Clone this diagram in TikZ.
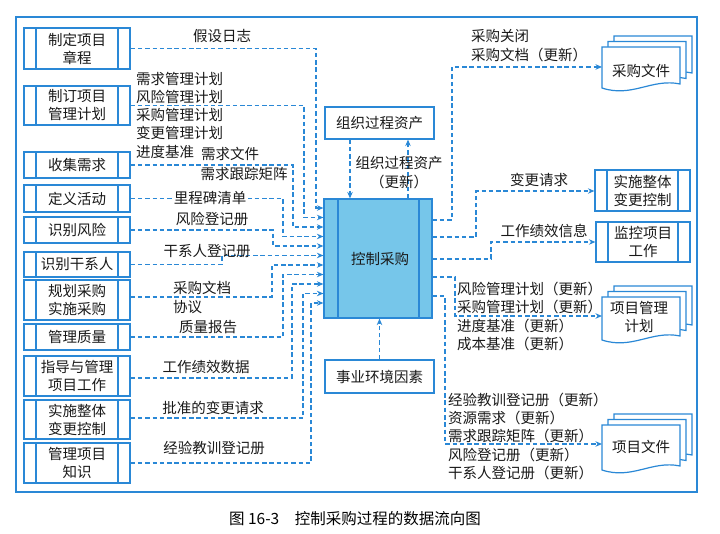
\documentclass[tikz,border=0pt]{standalone}
\usepackage{fontspec}
\setmainfont{Noto Sans CJK SC}
\usetikzlibrary{arrows.meta,calc}
\definecolor{lb}{RGB}{42,136,214}
\definecolor{cfill}{RGB}{118,198,234}
\definecolor{tx}{RGB}{25,25,25}
\tikzset{
 every node/.style={font=\fontsize{14.5}{18}\selectfont, text=tx},
 box/.style={draw=lb, line width=1.2pt, fill=white, inner sep=0pt, align=center},
 proc/.style={box, path picture={\draw[lb,line width=1.2pt]
   ([xshift=12pt]path picture bounding box.north west) -- ([xshift=12pt]path picture bounding box.south west)
   ([xshift=-12pt]path picture bounding box.north east) -- ([xshift=-12pt]path picture bounding box.south east);}},
 lproc/.style={proc, minimum width=106pt},
 flow/.style={draw=lb, line width=1.1pt, dash pattern=on 4.5pt off 2.8pt, -{Stealth[length=6.5pt,width=5.5pt]}},
 lab/.style={inner sep=0pt, anchor=west},
 clab/.style={inner sep=0pt},
 docnode/.style={minimum width=78pt, inner sep=0pt, anchor=north west}
}
\newcommand\mydoc[3]{%
 \draw[draw=lb,line width=1.2pt,fill=white] (#1,#2) -- ($(#1,#2)+(78,0)$) -- ($(#1,#2)+(78,#3-4)$)
   .. controls ($(#1,#2)+(50,#3-10)$) and ($(#1,#2)+(30,#3+10)$) .. ($(#1,#2)+(0,#3)$) -- cycle;}
\begin{document}
\begin{tikzpicture}[x=1pt,y=-1pt]
\useasboundingbox[fill=white] (0,0) rectangle (720,534);
\draw[lb, line width=1.3pt] (16,17) rectangle (697,492);

% left boxes
\node[lproc, minimum height=41pt] (b1) at (77,48.5) {制定项目\\章程};
\node[lproc, minimum height=39pt] (b2) at (77,105.5) {制订项目\\管理计划};
\node[lproc, minimum height=26pt] (b3) at (77,165) {收集需求};
\node[lproc, minimum height=27pt] (b4) at (77,198.5) {定义活动};
\node[lproc, minimum height=26pt] (b5) at (77,230) {识别风险};
\node[lproc, minimum height=25pt] (b6) at (77,264.5) {识别干系人};
\node[lproc, minimum height=40pt] (b7) at (77,300) {规划采购\\实施采购};
\node[lproc, minimum height=26pt] (b8) at (77,337) {管理质量};
\node[lproc, minimum height=40pt] (b9) at (77,376) {指导与管理\\项目工作};
\node[lproc, minimum height=39pt] (b10) at (77,419.5) {实施整体\\变更控制};
\node[lproc, minimum height=40pt] (b11) at (77,463) {管理项目\\知识};

% centre
\node[draw=lb, line width=1.2pt, fill=cfill, minimum width=108pt, minimum height=119pt, inner sep=0pt,
  path picture={\draw[lb,line width=1.2pt]
   ([xshift=14pt]path picture bounding box.north west) -- ([xshift=14pt]path picture bounding box.south west)
   ([xshift=-13pt]path picture bounding box.north east) -- ([xshift=-13pt]path picture bounding box.south east);}]
  (ctrl) at (378,258.5) {};
\node[clab] (ctrlt) at (380,259) {控制采购};
\node[box, minimum width=109pt, minimum height=32pt] (opa) at (379.5,123) {组织过程资产};
\node[box, minimum width=109pt, minimum height=33pt] (eef) at (379.5,376.5) {事业环境因素};

% right boxes
\node[proc, minimum width=95pt, minimum height=41pt] (ichg) at (642.5,190.5) {实施整体\\变更控制};
\node[proc, minimum width=94pt, minimum height=40pt] (mon) at (643,242) {监控项目\\工作};

% documents
\mydoc{614}{36}{41}\mydoc{608}{41.5}{41}\mydoc{602}{47}{41}
\node[docnode, minimum height=41pt] (docA) at (602,47) {};
\node[clab] (docAt) at (641,71) {采购文件};
\mydoc{614}{286}{43}\mydoc{608}{291.5}{43}\mydoc{602}{297}{43}
\node[docnode, minimum height=43pt] (docB) at (602,297) {};
\node[clab, align=center] (docBt) at (639,317) {项目管理\\计划};
\mydoc{614}{414}{45}\mydoc{608}{419.5}{45}\mydoc{602}{425}{45}
\node[docnode, minimum height=45pt] (docC) at (602,425) {};
\node[clab] (docCt) at (641,447) {项目文件};

% inputs
\draw[flow] (b1.east) -| (316,208) -- (ctrl.west |- 0,208);
\draw[flow] (b2.east) -| (304,217.5) -- (ctrl.west |- 0,217.5);
\draw[flow] (b3.east) -| (293,227) -- (ctrl.west |- 0,227);
\draw[flow] (b4.east) -| (283,236.5) -- (ctrl.west |- 0,236.5);
\draw[flow] (b5.east) -| (273,246) -- (ctrl.west |- 0,246);
\draw[flow] (b6.east) -| (222,255.5) -- (ctrl.west |- 0,255.5);
\draw[flow] (b7.east |- 0,297) -| (272,265) -- (ctrl.west |- 0,265);
\draw[flow] (b8.east) -| (283,274.5) -- (ctrl.west |- 0,274.5);
\draw[flow] (b9.east |- 0,378) -| (292,284) -- (ctrl.west |- 0,284);
\draw[flow] (b10.east |- 0,418) -| (303,293.5) -- (ctrl.west |- 0,293.5);
\draw[flow] (b11.east) -| (311,303) -- (ctrl.west |- 0,303);

% top / bottom
\draw[flow] (opa.south -| 350,0) -- (ctrl.north -| 350,0);
\draw[flow] (ctrl.north -| 408,0) -- (opa.south -| 408,0);
\draw[flow] (eef.north) -- (ctrl.south -| eef.north);

% outputs
\draw[flow] (ctrl.east |- 0,220) -| (452,67) -- (docA.west |- 0,67);
\draw[flow] (ctrl.east |- 0,237) -| (476,191) -- (ichg.west |- 0,191);
\draw[flow] (ctrl.east |- 0,259) -| (491,242) -- (mon.west);
\draw[flow] (ctrl.east |- 0,277) -| (455,316) -- (docB.west |- 0,316);
\draw[flow] (ctrl.east |- 0,296) -| (445,444) -- (docC.west |- 0,444);

% left labels
\node[clab] (l1) at (222,36) {假设日志};
\node[lab] (l2) at (136,79) {需求管理计划};
\node[lab] (l3) at (136,97) {风险管理计划};
\node[lab] (l4) at (136,115) {采购管理计划};
\node[lab] (l5) at (136,133) {变更管理计划};
\node[lab] (l6) at (136,152) {进度基准};
\node[clab] (l7) at (230,154) {需求文件};
\node[clab] (l8) at (244,174) {需求跟踪矩阵};
\node[clab, fill=white, inner xsep=2pt] (l9) at (210,198) {里程碑清单};
\node[clab] (l10) at (212,219) {风险登记册};
\node[clab] (l11) at (207,251) {干系人登记册};
\node[lab] (l12) at (173,288) {采购文档};
\node[lab] (l13) at (173,307) {协议};
\node[clab] (l14) at (208,327) {质量报告};
\node[clab] (l15) at (206,367) {工作绩效数据};
\node[clab] (l16) at (213,408) {批准的变更请求};
\node[clab] (l17) at (214,448) {经验教训登记册};

% right labels
\node[lab] (r1) at (471,36) {采购关闭};
\node[lab] (r2) at (471,55) {采购文档（更新）};
\node[clab] (r3) at (399,163) {组织过程资产};
\node[clab] (r4) at (399,182) {（更新）};
\node[clab] (r5) at (539,180) {变更请求};
\node[clab] (r6) at (544,231) {工作绩效信息};
\node[lab] (r7) at (457,289) {风险管理计划（更新）};
\node[lab] (r8) at (457,307) {采购管理计划（更新）};
\node[lab] (r9) at (457,326) {进度基准（更新）};
\node[lab] (r10) at (457,344) {成本基准（更新）};
\node[lab] (r11) at (448,400) {经验教训登记册（更新）};
\node[lab] (r12) at (448,418) {资源需求（更新）};
\node[lab] (r13) at (448,436) {需求跟踪矩阵（更新）};
\node[lab] (r14) at (448,455) {风险登记册（更新）};
\node[lab] (r15) at (448,473) {干系人登记册（更新）};

\node[clab, text=black, font=\fontsize{15.5}{18}\selectfont] (cap) at (355,519) {图 16-3\quad 控制采购过程的数据流向图};
\end{tikzpicture}
\end{document}
